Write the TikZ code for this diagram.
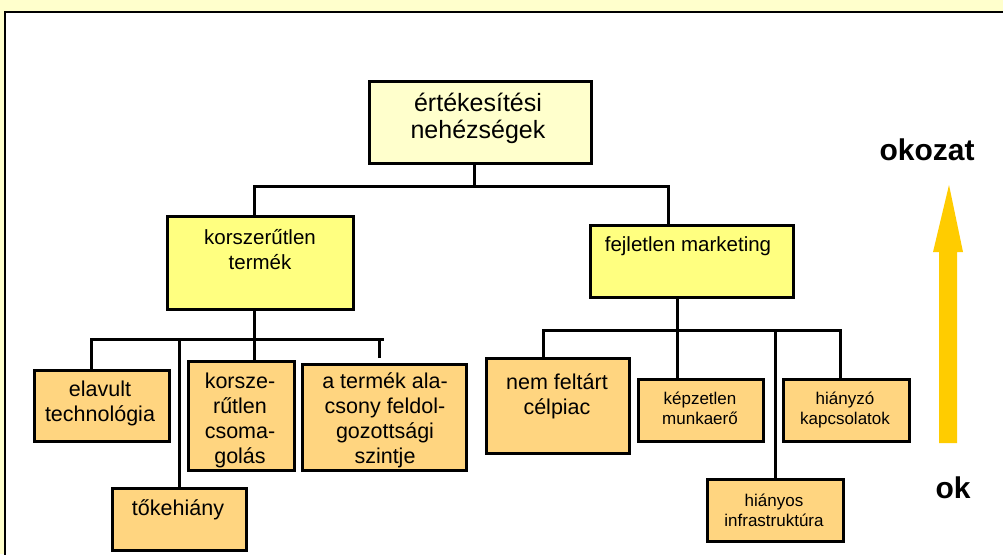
\documentclass[tikz,border=0pt]{standalone}
\usepackage{fontspec}
\setmainfont{Liberation Sans}
\definecolor{pagebg}{HTML}{FFFFCC}
\definecolor{topfill}{HTML}{FFFFCC}
\definecolor{midfill}{HTML}{FFFF80}
\definecolor{lowfill}{HTML}{FFD580}
\definecolor{arrowc}{HTML}{FFCC00}
\tikzset{
  box/.style={draw=black, line width=3pt, anchor=north west, inner sep=0pt},
  conn/.style={draw=black, line width=3pt},
  txt/.style={align=center, inner sep=0pt},
  big/.style={txt, font=\fontsize{25}{27}\selectfont},
  mid/.style={txt, font=\fontsize{20.5}{25}\selectfont},
  low/.style={txt, font=\fontsize{21.5}{25}\selectfont},
  small/.style={txt, font=\fontsize{17}{20}\selectfont},
  side/.style={txt, font=\fontsize{30}{32}\selectfont\bfseries}
}
\begin{document}
\begin{tikzpicture}[x=1pt,y=-1pt]
\useasboundingbox (0,0) rectangle (1003,554);
% page frame
\fill[pagebg] (0,0) rectangle (1003,554);
\fill[white] (5,12) rectangle (1010,560);
\draw[line width=2pt] (5,560) -- (5,12) -- (1010,12);

% boxes
\node[box, fill=topfill, minimum width=222pt, minimum height=82pt] (root) at (368,80) {};
\node[box, fill=midfill, minimum width=186pt, minimum height=93pt] (kt) at (166,215) {};
\node[box, fill=midfill, minimum width=203pt, minimum height=72pt] (fm) at (589,224) {};
\node[box, fill=lowfill, minimum width=135pt, minimum height=71pt] (ev) at (33,369) {};
\node[box, fill=lowfill, minimum width=134pt, minimum height=62pt] (tk) at (111,487) {};
\node[box, fill=lowfill, minimum width=106pt, minimum height=109pt] (cs) at (187,360) {};
\node[box, fill=lowfill, minimum width=164pt, minimum height=106pt] (lf) at (301,363) {};
\node[box, fill=lowfill, minimum width=143pt, minimum height=95pt] (nf) at (485,357) {};
\node[box, fill=lowfill, minimum width=125pt, minimum height=62pt] (kz) at (637,378) {};
\node[box, fill=lowfill, minimum width=126pt, minimum height=62pt] (hz) at (782,378) {};
\node[box, fill=lowfill, minimum width=136pt, minimum height=62pt] (hs) at (706,478) {};

% texts
\node[big] (troot) at (478,118) {értékesítési\\nehézségek};
\node[mid] (tkt) at (260,250) {korszerűtlen\\termék};
\node[mid] (tfm) at (688,246) {fejletlen marketing};
\node[low] (tev) at (100,403) {elavult\\technológia};
\node[low] (ttk) at (178,510) {tőkehiány};
\node[low] (tcs) at (240,420) {korsze-\\rűtlen\\csoma-\\golás};
\node[low] (tlf) at (385,420) {a termék ala-\\csony feldol-\\gozottsági\\szintje};
\node[low] (tnf) at (557,396) {nem feltárt\\célpiac};
\node[small] (tkz) at (700,408) {képzetlen\\munkaerő};
\node[small] (thz) at (845,410) {hiányzó\\kapcsolatok};
\node[small] (ths) at (774,510) {hiányos\\infrastruktúra};
\node[side] (effect) at (927,150) {okozat};
\node[side] (cause) at (953,488) {ok};

% connectors: top level
\draw[conn] ([xshift=-6pt]root.south) -- ++(0,21) coordinate (j0);
\draw[conn] ([xshift=-6pt]kt.north) |- (j0) -| ([xshift=-23.5pt]fm.north);

% connectors: left branch
\draw[conn] ([xshift=-6pt]kt.south) -- ++(0,28) coordinate (j1);
\draw[conn] (j1) -- (j1 |- cs.north);
\draw[conn] ([xshift=-10.5pt]ev.north) |- (j1) -- ++(129,0) coordinate (j1e);
\draw[conn] (tk.north) -- (tk.north |- j1);
\draw[conn] ([xshift=-5pt,yshift=5pt]lf.north) -- ([xshift=-5pt]lf.north |- j1);

% connectors: right branch
\draw[conn] ([xshift=-14.5pt]fm.south) -- ++(0,31) coordinate (j2);
\draw[conn] (j2) -- (j2 |- kz.north);
\draw[conn] ([xshift=-15pt]nf.north) |- (j2) -| ([xshift=-6pt]hz.north);
\draw[conn] (hs.north) -- (hs.north |- j2);

% cause-to-effect arrow
\fill[arrowc] (939,443) -- (939,252) -- (933,252) -- (949,185) -- (963,252) -- (957,252) -- (957,443) -- cycle;
\end{tikzpicture}
\end{document}
